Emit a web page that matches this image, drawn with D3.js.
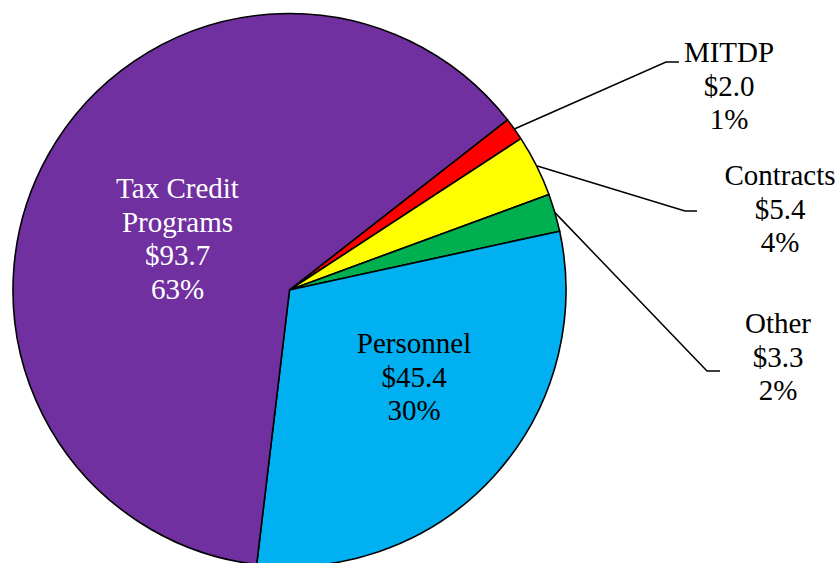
<!DOCTYPE html>
<html>
<head>
<meta charset="utf-8">
<script src="https://cdn.jsdelivr.net/npm/d3@7"></script>
<style>
  html, body { margin: 0; padding: 0; background: #ffffff; }
  svg { display: block; }
  text { font-family: "Liberation Serif", "Times New Roman", serif; font-size: 29px; }
</style>
</head>
<body>
<svg id="chart" width="839" height="563"></svg>
<script>
// Budget categories, in clockwise drawing order
const categories = ["MITDP", "Contracts", "Other", "Personnel", "Tax Credit Programs"];
const amounts = [2.0, 5.4, 3.3, 45.4, 93.7];          // $ millions
const percentLabels = ["1%", "4%", "2%", "30%", "63%"];
const amountLabels = ["$2.0", "$5.4", "$3.3", "$45.4", "$93.7"];
const nameLines = [["MITDP"], ["Contracts"], ["Other"], ["Personnel"], ["Tax Credit", "Programs"]];
const colors = ["#FF0000", "#FFFF00", "#00B050", "#00B0F0", "#7030A0"];

// Layout
const width = 839, height = 563;
const cx = 289.5, cy = 290, radius = 276.5;
const startAngle = 52 * Math.PI / 180;
const lineHeight = 33.5;

// Label placement: inside labels sit on the slice, outside ones get a leader line
const labelLayout = [
  { x: 729, y: 62, inside: false, elbow: [666, 62], tail: [679, 62] },
  { x: 780, y: 185, inside: false, elbow: [685, 211], tail: [697, 211] },
  { x: 778, y: 333, inside: false, elbow: [707, 371], tail: [720, 371] },
  { x: 414, y: 353, inside: true, fill: "#000000" },
  { x: 177.5, y: 198, inside: true, fill: "#ffffff" }
];

const svg = d3.select("#chart");
const g = svg.append("g").attr("transform", `translate(${cx},${cy})`);

const pie = d3.pie()
  .value(d => d.value)
  .sort(null)
  .startAngle(startAngle)
  .endAngle(startAngle + 2 * Math.PI);

const data = categories.map((c, i) => ({ name: c, value: amounts[i], i }));
const arcs = pie(data);

const arc = d3.arc().innerRadius(0).outerRadius(radius);

g.selectAll("path.slice")
  .data(arcs)
  .join("path")
  .attr("class", "slice")
  .attr("d", arc)
  .attr("fill", d => colors[d.data.i])
  .attr("stroke", "#000")
  .attr("stroke-width", 1.6)
  .attr("stroke-linejoin", "round");

// Leader lines for the small slices
arcs.forEach(d => {
  const L = labelLayout[d.data.i];
  if (L.inside) return;
  const mid = (d.startAngle + d.endAngle) / 2;
  const sx = cx + radius * Math.sin(mid);
  const sy = cy - radius * Math.cos(mid);
  svg.append("polyline")
    .attr("points", [[sx, sy], L.elbow, L.tail].map(p => p.join(",")).join(" "))
    .attr("fill", "none")
    .attr("stroke", "#000")
    .attr("stroke-width", 1.5);
});

// Text labels: name line(s), amount, percentage
arcs.forEach(d => {
  const i = d.data.i;
  const L = labelLayout[i];
  const lines = nameLines[i].concat([amountLabels[i], percentLabels[i]]);
  const t = svg.append("text")
    .attr("text-anchor", "middle")
    .attr("fill", L.fill || "#000000");
  lines.forEach((s, k) => {
    t.append("tspan")
      .attr("x", L.x)
      .attr("y", L.y + k * lineHeight)
      .text(s);
  });
});
</script>
</body>
</html>
